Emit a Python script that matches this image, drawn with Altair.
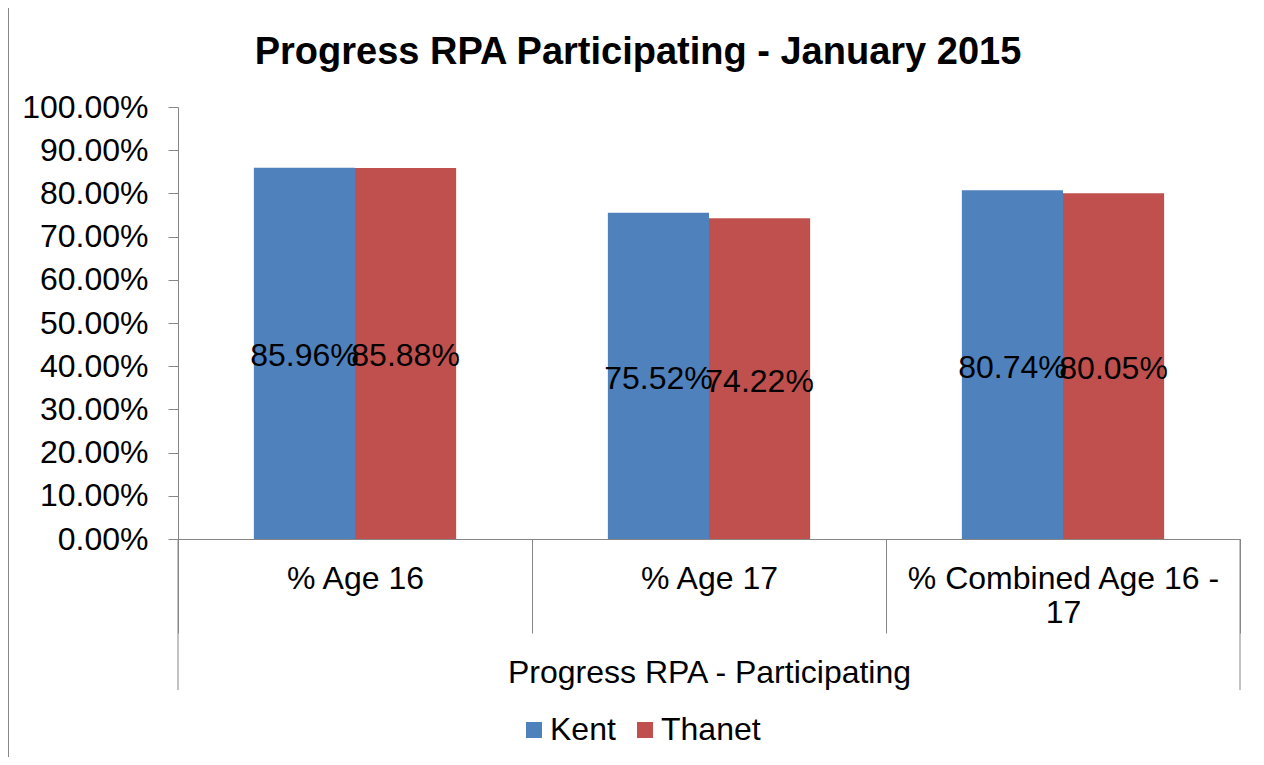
import altair as alt
import pandas as pd

categories = ["% Age 16", "% Age 17", "% Combined Age 16 - 17"]
series = ["Kent", "Thanet"]
kent = [0.8596, 0.7552, 0.8074]
thanet = [0.8588, 0.7422, 0.8005]
y_ticks = [0.0, 0.1, 0.2, 0.3, 0.4, 0.5, 0.6, 0.7, 0.8, 0.9, 1.0]
colors = ["#4F81BD", "#C0504D"]
chart_title = "Progress RPA Participating - January 2015"
x_title = "Progress RPA - Participating"

rows = []
for i, c in enumerate(categories):
    rows.append({"category": c, "series": series[0], "value": kent[i]})
    rows.append({"category": c, "series": series[1], "value": thanet[i]})
df = pd.DataFrame(rows)

W, H = 1062, 432
FONT = "Liberation Sans"
GREY = "#868686"
FS = 32

x_enc = alt.X(
    "category:N",
    sort=categories,
    scale=alt.Scale(paddingInner=0, paddingOuter=0),
    axis=alt.Axis(
        title=x_title,
        labelAngle=0,
        tickBand="extent",
        tickSize=94,
        tickColor=GREY,
        domainColor=GREY,
        labelPadding=-70,
        labelBaseline="top",
        labelFontSize=FS,
        labelLineHeight=34,
        labelFont=FONT,
        labelColor="black",
        labelLimit=0,
        labelExpr="datum.label == '% Combined Age 16 - 17' ? ['% Combined Age 16 -', '17'] : datum.label",
        titleFont=FONT,
        titleFontSize=FS,
        titleFontWeight="normal",
        titleColor="black",
        titleY=133,
        titleBaseline="middle",
    ),
)
xoff = alt.XOffset("series:N", sort=series, scale=alt.Scale(paddingOuter=0.75, paddingInner=0))
y_enc = alt.Y(
    "value:Q",
    scale=alt.Scale(domain=[0, 1]),
    axis=alt.Axis(
        values=y_ticks,
        format=".2%",
        title=None,
        grid=False,
        tickSize=10,
        tickColor=GREY,
        domainColor=GREY,
        labelPadding=20,
        labelFontSize=FS,
        labelFont=FONT,
        labelColor="black",
    ),
)
color_enc = alt.Color(
    "series:N",
    sort=series,
    scale=alt.Scale(domain=series, range=colors),
    title=None,
    legend=alt.Legend(
        orient="none",
        legendX=340,
        legendY=607,
        direction="horizontal",
        symbolType="square",
        symbolSize=256,
        symbolStrokeWidth=0,
        labelFontSize=FS,
        labelFont=FONT,
        labelColor="black",
        columnPadding=13,
        labelOffset=0,
    ),
)

base = alt.Chart(df)
bars = base.mark_bar().encode(x=x_enc, xOffset=xoff, y=y_enc, color=color_enc)
labels = base.transform_calculate(mid="datum.value / 2").mark_text(
    font=FONT, fontSize=FS, color="black", baseline="middle", align="center", dy=3
).encode(
    x=alt.X("category:N", sort=categories),
    xOffset=alt.XOffset("series:N", sort=series),
    y=alt.Y("mid:Q"),
    text=alt.Text("value:Q", format=".2%"),
)

one = alt.Chart(pd.DataFrame({"k": [0]}))
left_rule = one.mark_rule(color=GREY, strokeWidth=1).encode(
    x=alt.value(0), y=alt.value(H), y2=alt.value(H + 151)
)
right_rule = one.mark_rule(color=GREY, strokeWidth=1).encode(
    x=alt.value(W), y=alt.value(H), y2=alt.value(H + 151)
)
border_left = one.mark_rule(color=GREY, strokeWidth=1).encode(
    x=alt.value(-169.5), y=alt.value(-99.5), y2=alt.value(H + 240)
)
border_top = one.mark_rule(color=GREY, strokeWidth=1).encode(
    x=alt.value(-169.5), x2=alt.value(W + 100), y=alt.value(-99.5)
)

chart = alt.layer(border_left, border_top, bars, labels, left_rule, right_rule).properties(
    width=W,
    height=H,
    autosize=alt.AutoSizeParams(type="none"),
    padding={"left": 170, "top": 99, "right": 16, "bottom": 218},
    title=alt.TitleParams(
        chart_title,
        font=FONT,
        fontSize=38,
        fontWeight="bold",
        color="black",
        anchor="middle",
        dx=-71,
        offset=-65,
    ),
).configure(background="white", view=alt.ViewConfig(strokeWidth=0, stroke="transparent"))

chart.save("out.html", embed_options={"renderer": "svg", "actions": False})
